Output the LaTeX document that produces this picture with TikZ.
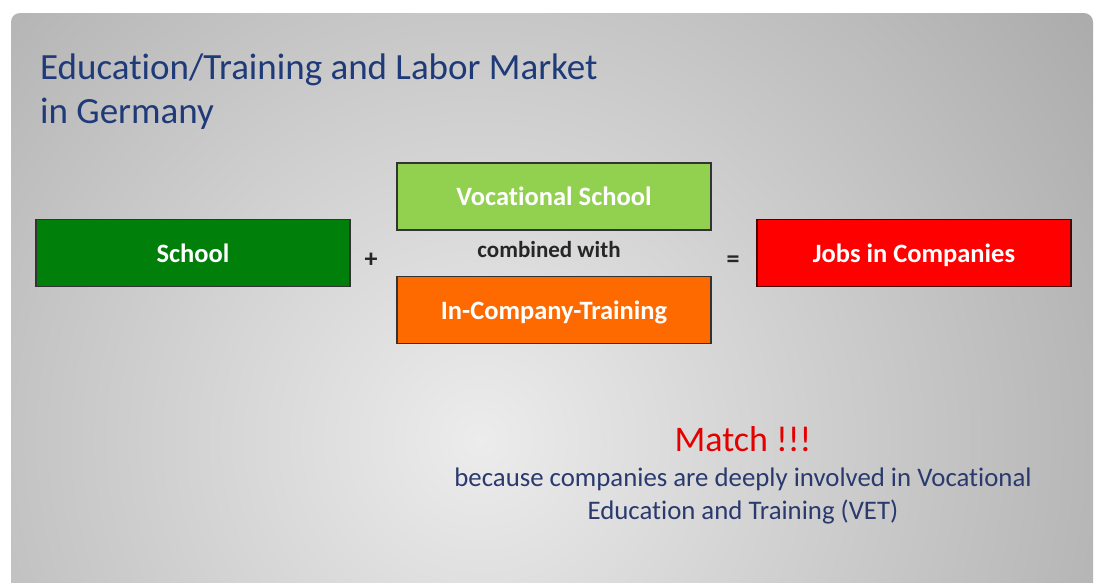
\documentclass[tikz,border=0pt]{standalone}
\usepackage{fontspec}
\setmainfont{Carlito}[Ligatures=NoCommon]
\definecolor{titleblue}{HTML}{1F3A78}
\definecolor{capblue}{HTML}{2A3A6E}
\definecolor{schoolgreen}{HTML}{00800A}
\definecolor{vocgreen}{HTML}{92D050}
\definecolor{trainorange}{HTML}{FF6A00}
\definecolor{jobred}{HTML}{FF0000}
\definecolor{bglight}{HTML}{ECECEC}
\definecolor{bgdark}{HTML}{A4A4A4}
\tikzset{
  box/.style={draw=#1, line width=1.3pt, minimum width=314pt, minimum height=67pt,
    inner sep=0pt, text=white, text depth=0pt, font=\fontsize{26.5}{30}\selectfont\bfseries},
  sign/.style={font=\fontsize{26}{30}\selectfont\bfseries, text=black!85, inner sep=0pt},
}
\begin{document}
\begin{tikzpicture}[x=1pt,y=-1pt]
\useasboundingbox (0,0) rectangle (1096,582);
\fill[white] (0,0) rectangle (1096,582);
% slide background
\begin{scope}
\clip[rounded corners=9pt] (11,13) rectangle (1093,600);
\shade[inner color=bglight, outer color=bgdark] (480,440) circle (830);
\end{scope}
% title
\node[anchor=base west, text=titleblue, font=\fontsize{37}{44}\selectfont, inner sep=0pt] (t1) at (40,79) {Education/Training and Labor Market};
\node[anchor=base west, text=titleblue, font=\fontsize{37}{44}\selectfont, inner sep=0pt] (t2) at (40,123) {in Germany};
% boxes
\node[box=black!80, fill=schoolgreen] (school) at (193,253) {School};
\node[box=black!80, fill=vocgreen] (voc) at (554,196.5) {Vocational School};
\node[box=black!80, fill=trainorange] (train) at (554,310) {In-Company-Training};
\node[box=black!70!red, fill=jobred] (jobs) at (914,253) {Jobs in Companies};
\node[sign] (plus) at (371,260) {+};
\node[sign] (eq) at (733,262) {=};
\node[font=\fontsize{23}{26}\selectfont\bfseries, text=black!85, inner sep=0pt] (comb) at (549,250) {combined with};
% conclusion
\node[text=red!90!black, font=\fontsize{36}{40}\selectfont, inner sep=0pt] (match) at (743,439) {Match !!!};
\node[text=capblue, font=\fontsize{26.8}{33}\selectfont, align=center, inner sep=0pt, anchor=north] (cap) at (743,468) {because companies are deeply involved in Vocational\\Education and Training (VET)};
\end{tikzpicture}
\end{document}
